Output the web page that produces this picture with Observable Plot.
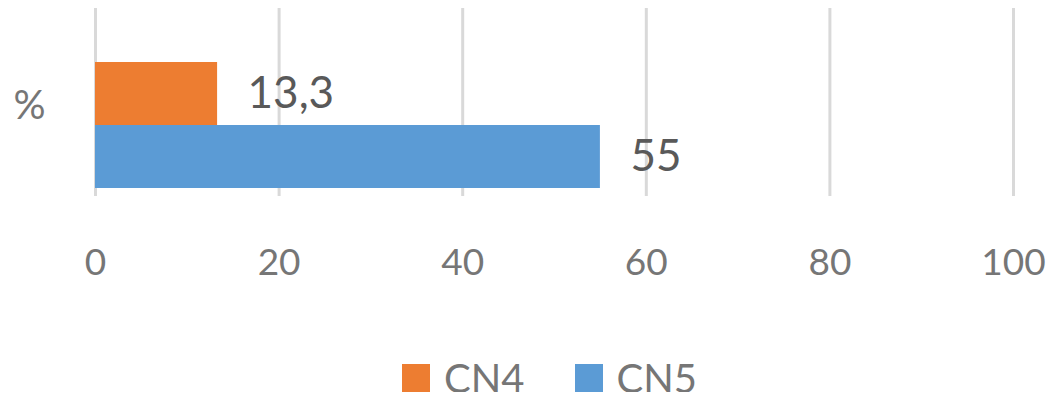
<!DOCTYPE html>
<html>
<head>
<meta charset="utf-8">
<script src="https://cdn.jsdelivr.net/npm/d3@7"></script>
<script src="https://cdn.jsdelivr.net/npm/@observablehq/plot@0.6"></script>
<style>
  html, body { margin: 0; padding: 0; background: #fff; }
  #chart { width: 1058px; }
  .legend { display: flex; justify-content: center; gap: 50px; margin-top: 64px; margin-left: 41px;
            font-family: Lato, "Open Sans", sans-serif; font-size: 40px; color: #767676; line-height: 28px; }
  .legend span.item { display: flex; align-items: center; }
  .legend span.sw { display: inline-block; width: 28px; height: 28px; margin-right: 14px; }
</style>
</head>
<body>
<div id="chart"></div>
<script>
const category = "%";
const series = ["CN4", "CN5"];
const values = [13.3, 55];
const colors = ["#ED7D31", "#5B9BD5"];
const xTicks = [0, 20, 40, 60, 80, 100];

const data = series.map((s, i) => ({series: s, value: values[i], label: String(values[i]).replace(".", ",")}));

const plot = Plot.plot({
  width: 1058,
  height: 300,
  marginLeft: 95,
  marginRight: 45,
  marginTop: 8,
  marginBottom: 104,
  style: {fontFamily: "Lato, 'Open Sans', sans-serif", background: "#fff"},
  x: {domain: [0, 100], ticks: xTicks, label: null},
  y: {domain: series, range: [62, 188], padding: 0, axis: null},
  color: {domain: series, range: colors},
  marks: [
    Plot.ruleX(xTicks, {stroke: "#d9d9d9", strokeWidth: 3}),
    Plot.barX(data, {x: "value", y: "series", fill: "series"}),
    Plot.text(data, {x: "value", y: "series", text: "label", textAnchor: "start", dx: 30,
                     fontSize: 44, fill: "#595959"}),
    Plot.text([category], {frameAnchor: "left", y: () => "CN4", text: d => d, dx: -82, dy: 12,
                           textAnchor: "start", fontSize: 40, fill: "#767676"}),
    Plot.axisX({ticks: xTicks, tickSize: 0, tickPadding: 52, fontSize: 37, fill: "#767676",
                tickFormat: d => String(d), label: null})
  ]
});
document.getElementById("chart").appendChild(plot);

const legend = document.createElement("div");
legend.className = "legend";
series.forEach((s, i) => {
  const item = document.createElement("span");
  item.className = "item";
  const sw = document.createElement("span");
  sw.className = "sw";
  sw.style.background = colors[i];
  item.appendChild(sw);
  item.appendChild(document.createTextNode(s));
  legend.appendChild(item);
});
document.getElementById("chart").appendChild(legend);
</script>
</body>
</html>
